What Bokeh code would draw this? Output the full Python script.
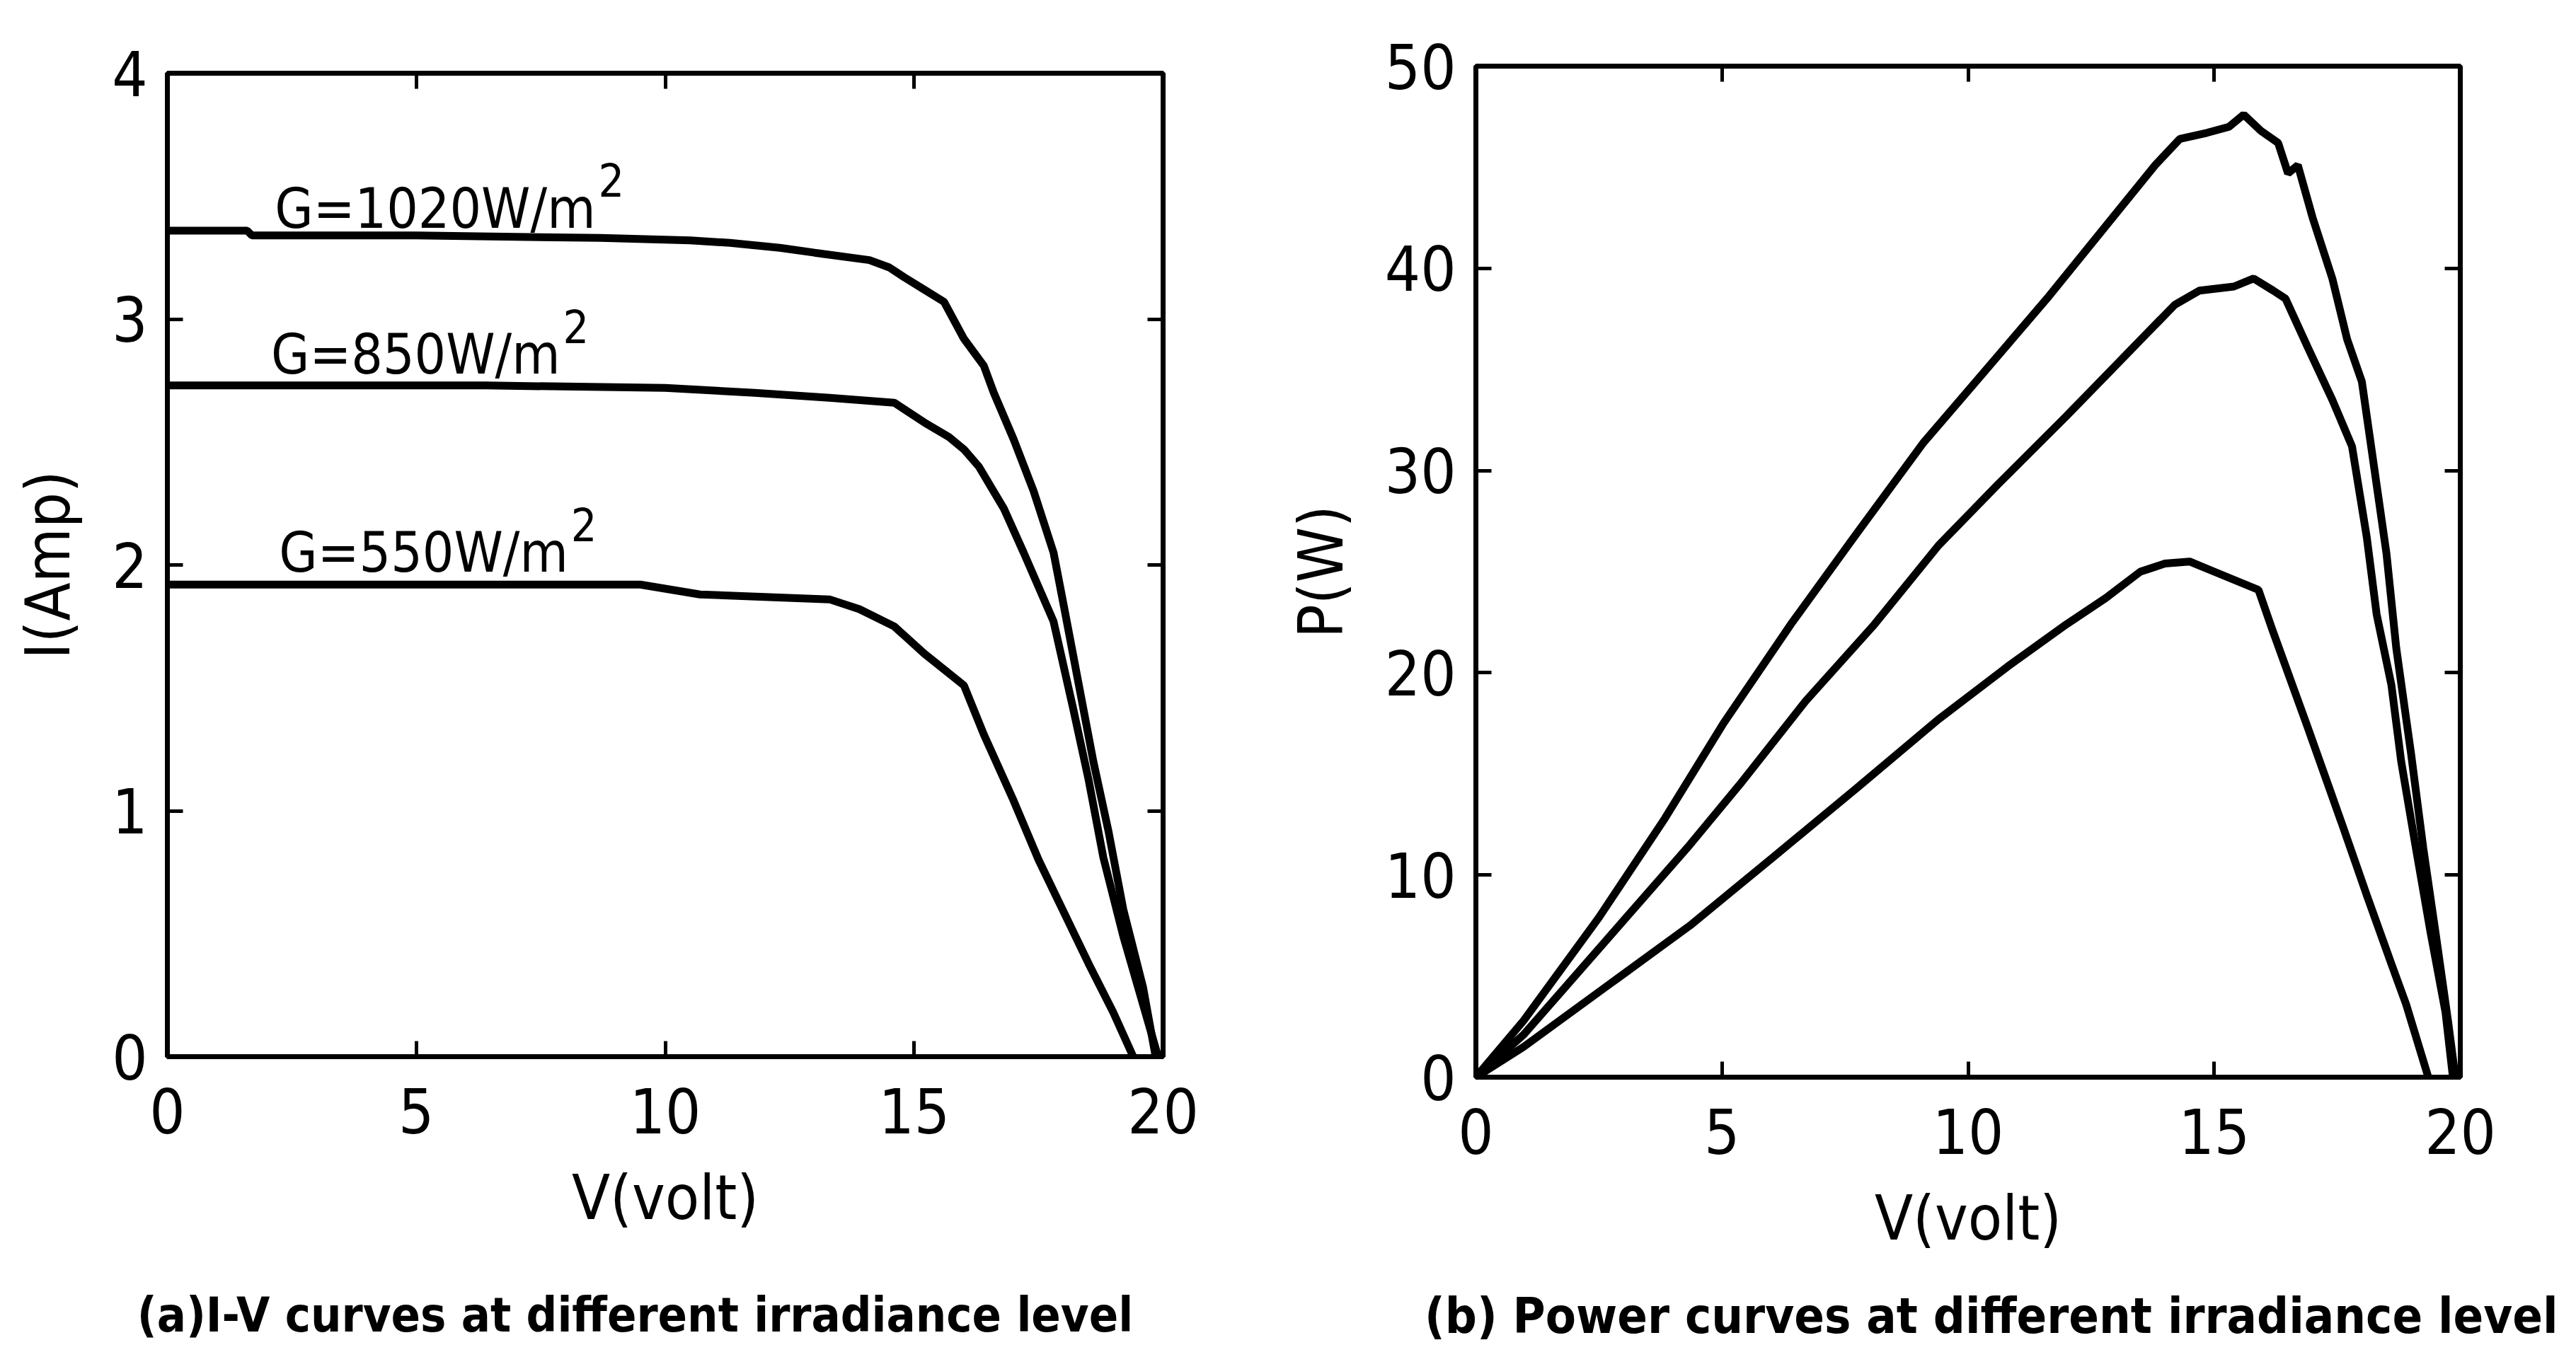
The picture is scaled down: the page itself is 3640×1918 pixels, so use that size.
from bokeh.plotting import figure
from bokeh.layouts import row, column
from bokeh.models import Range1d, LinearAxis, FixedTicker
from bokeh.core.properties import value
from bokeh.embed import file_html
from bokeh.resources import INLINE

# ---------------- data: I-V curves ----------------
v_iv_1020 = [0, 1.6, 1.7, 5.0, 8.7, 10.5, 11.3, 12.3, 13.0, 14.1, 14.5, 14.8, 15.2, 15.6, 16.0,
             16.4, 16.6, 17.0, 17.4, 17.8, 18.0, 18.3, 18.6, 18.9, 19.2, 19.6, 19.85]
i_iv_1020 = [3.36, 3.36, 3.34, 3.34, 3.33, 3.32, 3.31, 3.29, 3.27, 3.24, 3.21, 3.17, 3.12, 3.07, 2.92,
             2.81, 2.70, 2.51, 2.30, 2.05, 1.84, 1.52, 1.20, 0.92, 0.60, 0.28, 0.0]

v_iv_850 = [0, 3.0, 6.4, 10.0, 11.8, 13.3, 14.6, 15.2, 15.7, 16.0, 16.3, 16.8, 17.2, 17.8, 18.2,
            18.5, 18.8, 19.2, 19.6, 19.9]
i_iv_850 = [2.73, 2.73, 2.73, 2.72, 2.70, 2.68, 2.66, 2.58, 2.52, 2.47, 2.40, 2.23, 2.05, 1.77, 1.41,
            1.13, 0.81, 0.49, 0.21, 0.0]

v_iv_550 = [0, 9.5, 10.7, 12.0, 13.3, 13.9, 14.6, 15.2, 16.0, 16.4, 17.0, 17.5, 18.0, 18.5, 19.0, 19.4]
i_iv_550 = [1.92, 1.92, 1.88, 1.87, 1.86, 1.82, 1.75, 1.64, 1.51, 1.31, 1.04, 0.80, 0.59, 0.38, 0.18, 0.0]

# ---------------- data: P-V curves ----------------
v_p_1020 = [0, 0.97, 2.5, 3.84, 5.03, 6.4, 7.74, 9.1, 10.3, 11.6, 12.8, 13.8, 14.3, 14.85, 15.3, 15.6,
            15.95, 16.3, 16.5, 16.7, 17.0, 17.4, 17.7, 18.0, 18.2, 18.5, 18.7, 19.0, 19.25, 19.5, 19.75, 19.9]
p_p_1020 = [0, 2.8, 7.9, 12.8, 17.5, 22.4, 26.9, 31.4, 34.8, 38.5, 42.1, 45.1, 46.4, 46.7, 47.0, 47.6,
            46.8, 46.2, 44.7, 45.1, 42.5, 39.5, 36.5, 34.4, 31.0, 25.9, 21.2, 16.0, 11.3, 7.1, 2.8, 0]

v_p_850 = [0, 0.97, 2.66, 4.35, 5.37, 6.7, 8.1, 9.4, 10.6, 12.0, 13.2, 14.2, 14.7, 15.4, 15.8, 16.2,
           16.45, 16.9, 17.4, 17.8, 18.1, 18.3, 18.6, 18.8, 19.1, 19.4, 19.7, 19.85]
p_p_850 = [0, 2.1, 6.8, 11.5, 14.5, 18.6, 22.4, 26.3, 29.3, 32.7, 35.7, 38.2, 38.9, 39.1, 39.5, 38.9,
           38.5, 36.1, 33.5, 31.2, 26.7, 22.9, 19.4, 15.6, 11.3, 7.1, 3.2, 0]

v_p_550 = [0, 0.97, 2.66, 4.35, 6.05, 7.74, 9.4, 10.8, 12.0, 12.8, 13.5, 14.0, 14.5, 15.0, 15.9, 16.2,
           16.9, 17.6, 18.1, 18.6, 18.9, 19.35]
p_p_550 = [0, 1.5, 4.5, 7.5, 10.9, 14.3, 17.7, 20.3, 22.4, 23.7, 25.0, 25.4, 25.5, 25.0, 24.1, 22.0,
           17.3, 12.5, 9.0, 5.6, 3.6, 0]

# ---------------- labels / ticks ----------------
x_ticks = [0, 5, 10, 15, 20]
i_ticks = [0, 1, 2, 3, 4]
p_ticks = [0, 10, 20, 30, 40, 50]
ann_text = ["G=1020W/m", "G=850W/m", "G=550W/m"]
ann_sup = ["2", "2", "2"]
ann_x = [8.60, 7.89, 8.05]      # end of "W/m" (V), where the exponent starts
ann_y = [3.45, 2.856, 2.05]     # label anchor (A)
caption_a = "(a)I-V curves at different irradiance level" + "\u00a0" * 4
caption_b = "\u00a0" * 3 + "(b) Power curves at different irradiance level"

FONT = "'DejaVu Sans Condensed', 'Liberation Sans', sans-serif"
TICK_SIZE = "88px"
LW = 11


def style(p, ticks_y, ylabel, caption, cap_standoff, cap_size):
    p.grid.visible = False
    p.outline_line_color = "black"
    p.outline_line_width = 7
    p.background_fill_color = "white"
    p.border_fill_color = "white"
    for ax in p.axis:
        ax.major_label_text_font = FONT
        ax.major_label_text_font_size = TICK_SIZE
        ax.major_label_text_color = "black"
        ax.axis_label_text_font = FONT
        ax.axis_label_text_font_size = TICK_SIZE
        ax.axis_label_text_font_style = "normal"
        ax.axis_label_text_color = "black"
        ax.axis_line_width = 7
        ax.major_tick_in = 22
        ax.major_tick_out = 0
        ax.major_tick_line_width = 5
        ax.minor_tick_line_color = None
    p.xaxis.ticker = FixedTicker(ticks=x_ticks)
    p.yaxis.ticker = FixedTicker(ticks=ticks_y)
    p.xaxis.axis_label = "V(volt)"
    p.yaxis.axis_label = ylabel
    p.xaxis.major_label_standoff = 44
    p.yaxis.major_label_standoff = 28
    p.xaxis.axis_label_standoff = 36
    p.yaxis.axis_label_standoff = 36
    for side, tk in (("above", x_ticks), ("right", ticks_y)):
        ax = LinearAxis(ticker=FixedTicker(ticks=tk), major_label_text_color=None,
                        major_label_text_font_size="10px",
                        major_tick_in=22, major_tick_out=0, major_tick_line_width=5,
                        minor_tick_line_color=None, axis_line_color=None,
                        major_label_standoff=0)
        p.add_layout(ax, side)
    cap = LinearAxis(ticker=FixedTicker(ticks=[]), axis_line_color=None,
                     major_tick_line_color=None, minor_tick_line_color=None,
                     major_label_text_color=None, major_label_text_font_size="10px",
                     major_label_standoff=0,
                     axis_label=caption, axis_label_text_font=FONT,
                     axis_label_text_font_size=cap_size, axis_label_text_font_style="bold",
                     axis_label_text_color="black", axis_label_standoff=cap_standoff)
    p.add_layout(cap, "below")


# ---------------- left: I-V ----------------
p1 = figure(x_range=Range1d(0, 20), y_range=Range1d(0, 4),
            frame_width=1407, frame_height=1390,
            min_border_left=236, min_border_right=167, min_border_top=103, min_border_bottom=425,
            output_backend="svg", toolbar_location=None)
style(p1, i_ticks, "I(Amp)", caption_a, 72, "68px")
for vx, iy in ((v_iv_1020, i_iv_1020), (v_iv_850, i_iv_850), (v_iv_550, i_iv_550)):
    p1.line(vx, iy, line_color="black", line_width=LW)

p1.text(x=ann_x, y=ann_y, text=ann_text, text_align="right", text_baseline="alphabetic",
        text_font=value(FONT), text_font_size="78px", text_color="black")
p1.text(x=ann_x, y=ann_y, text=ann_sup, text_align="left", text_baseline="alphabetic",
        x_offset=4, y_offset=-40,
        text_font=value(FONT), text_font_size="64px", text_color="black")

# ---------------- right: P-V ----------------
p2 = figure(x_range=Range1d(0, 20), y_range=Range1d(0, 50),
            frame_width=1391, frame_height=1429,
            min_border_left=275, min_border_right=164, min_border_top=93, min_border_bottom=396,
            output_backend="svg", toolbar_location=None)
style(p2, p_ticks, "P(W)", caption_b, 43, "70px")
for vx, py in ((v_p_1020, p_p_1020), (v_p_850, p_p_850), (v_p_550, p_p_550)):
    p2.line(vx, py, line_color="black", line_width=LW)

layout = row(column(p1), column(p2), spacing=0)
open("out.html", "w").write(file_html(layout, INLINE))
